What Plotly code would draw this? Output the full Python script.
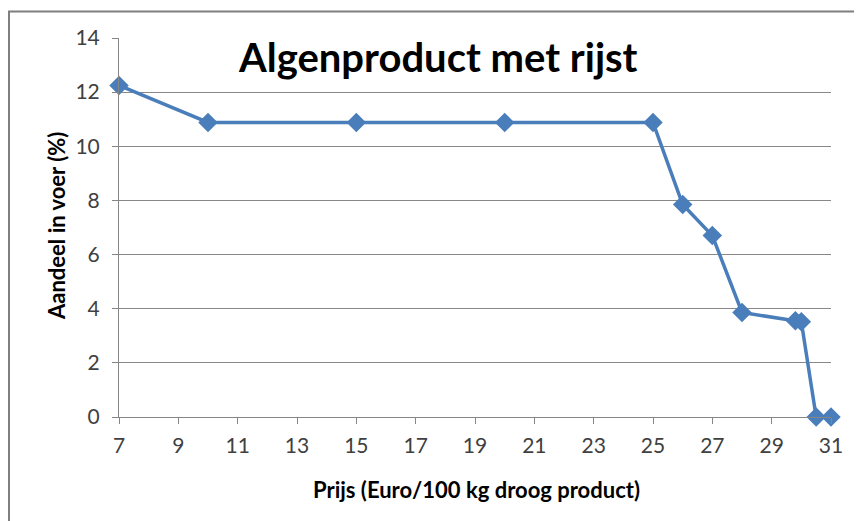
import plotly.graph_objects as go

prijs = [7, 10, 15, 20, 25, 26, 27, 28, 29.8, 30.0, 30.5, 31]
aandeel = [12.25, 10.88, 10.88, 10.88, 10.88, 7.85, 6.7, 3.86, 3.56, 3.52, 0.0, 0.0]
x_ticks = list(range(7, 32, 2))
y_ticks = list(range(0, 15, 2))

title_text = "Algenproduct met rijst"
x_title = "Prijs (Euro/100 kg droog product)"
y_title = "Aandeel in voer (%)"

FONT = "Lato"
blue = "#4A7EBB"

OFF = 8  # page body margin
W, H = 862 - OFF, 521 - OFF
L, R, T, B = 119 - OFF, 31, 38 - OFF, 104
pw, ph = W - L - R, H - T - B

def px(p):  # page pixel -> paper x
    return (p - OFF - L) / pw

def py(p):  # page pixel -> paper y
    return (H - B - (p - OFF)) / ph

fig = go.Figure()
fig.add_trace(go.Scatter(
    x=prijs, y=aandeel, mode="lines+markers",
    line=dict(color=blue, width=3.5),
    marker=dict(symbol="diamond", size=15, color=blue),
    cliponaxis=False, showlegend=False,
))

fig.update_layout(
    width=W, height=H,
    margin=dict(l=L, r=R, t=T, b=B, autoexpand=False),
    paper_bgcolor="white", plot_bgcolor="white",
    font=dict(family=FONT, color="#404040"),
    xaxis=dict(
        range=[7, 31], tickvals=x_ticks, ticktext=[str(v) for v in x_ticks],
        showgrid=False, zeroline=False, showline=True, linecolor="#868686", linewidth=1,
        ticks="outside", ticklen=6, tickcolor="#868686", ticklabelstandoff=4,
        tickfont=dict(size=21, color="#404040", family=FONT),
    ),
    yaxis=dict(
        range=[0, 14], tickvals=y_ticks,
        showgrid=True, gridcolor="#888888", gridwidth=1,
        zeroline=False, showline=True, linecolor="#868686", linewidth=1,
        ticks="outside", ticklen=6, tickcolor="#868686", ticklabelstandoff=8,
        tickfont=dict(size=21, color="#404040", family=FONT),
    ),
    annotations=[
        dict(text="<b>" + title_text + "</b>", x=px(438), y=py(57), xref="paper", yref="paper",
             showarrow=False, font=dict(size=40, color="black", family=FONT),
             xanchor="center", yanchor="middle"),
        dict(text="<b>" + x_title + "</b>", x=px(476), y=py(489), xref="paper", yref="paper",
             showarrow=False, font=dict(size=22, color="black", family=FONT),
             xanchor="center", yanchor="middle"),
        dict(text="<b>" + y_title + "</b>", x=px(56), y=py(226), xref="paper", yref="paper",
             showarrow=False, textangle=-90, font=dict(size=22, color="black", family=FONT),
             xanchor="center", yanchor="middle"),
    ],
    shapes=[
        dict(type="line", xref="paper", yref="paper", x0=px(8), x1=px(880), y0=py(11.5), y1=py(11.5),
             line=dict(color="#7F7F7F", width=2)),
        dict(type="line", xref="paper", yref="paper", x0=px(9), x1=px(9), y0=py(11), y1=py(540),
             line=dict(color="#7F7F7F", width=2)),
    ],
)

fig.write_html("out.html")
